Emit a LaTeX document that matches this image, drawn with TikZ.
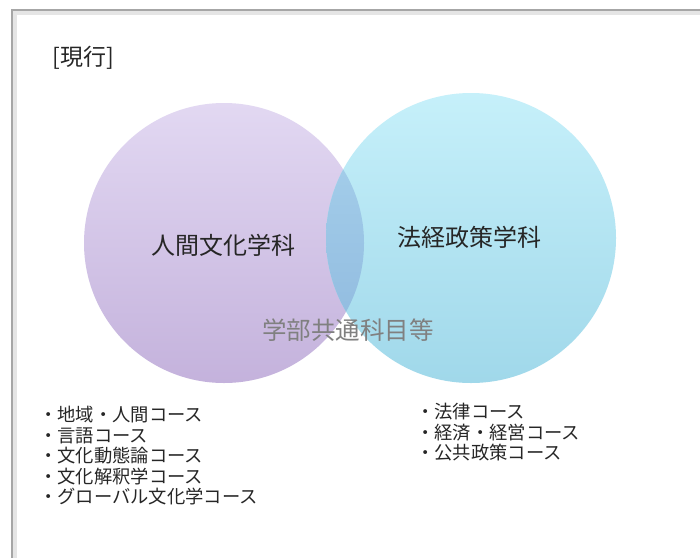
\documentclass[tikz,border=0pt]{standalone}
\usepackage{fontspec}
\setmainfont{Noto Sans CJK JP}
\begin{document}
\begin{tikzpicture}[x=1pt,y=-1pt,
  lbl/.style={inner sep=0pt, font=\fontsize{23}{23}\selectfont, text=black!85},
  biglbl/.style={inner sep=0pt, font=\fontsize{24}{24}\selectfont, text=black!85},
  listtxt/.style={inner sep=0pt, anchor=north west, align=left, font=\fontsize{18.3}{20.5}\selectfont, text=black!85}]
\useasboundingbox (0,0) rectangle (700,557);
\fill[white] (0,0) rectangle (700,557);
% frame with soft shadow
\draw[black!10, line width=5pt] (14,12) rectangle (720,580);
\draw[black!35, line width=2pt] (12,10) rectangle (720,580);
% circles
\coordinate (cl) at (224,243);
\coordinate (cr) at (471,238);
\shade[top color={rgb,255:red,226;green,216;blue,242}, bottom color={rgb,255:red,196;green,178;blue,220}] (cl) circle (140);
\shade[top color={rgb,255:red,198;green,240;blue,250}, bottom color={rgb,255:red,160;green,216;blue,234}] (cr) circle (145);
\begin{scope}
  \clip (cl) circle (140);
  \shade[top color={rgb,255:red,170;green,212;blue,238}, bottom color={rgb,255:red,140;green,182;blue,220}] (cr) circle (145);
\end{scope}
% labels
\node[lbl] (title) at (83,58) {[現行]};
\node[biglbl] (human) at (223,245) {人間文化学科};
\node[biglbl] (law) at (469,237) {法経政策学科};
\node[biglbl, text=black!50, font=\fontsize{24.5}{24.5}\selectfont] (common) at (348,330) {学部共通科目等};
\node[listtxt] (llist) at (39,406) {・地域・人間コース\\・言語コース\\・文化動態論コース\\・文化解釈学コース\\・グローバル文化学コース};
\node[listtxt] (rlist) at (416,403) {・法律コース\\・経済・経営コース\\・公共政策コース};
\end{tikzpicture}
\end{document}
